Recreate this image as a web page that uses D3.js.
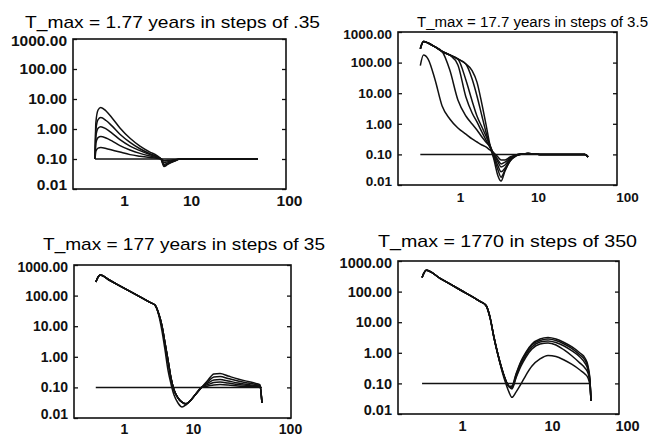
<!DOCTYPE html>
<html>
<head>
<meta charset="utf-8">
<script src="https://cdn.jsdelivr.net/npm/d3@7"></script>
<style>
body { margin: 0; background: #fff; }
svg { display: block; background: #fff; }
.title { font-family: 'Liberation Sans', Arial, sans-serif; fill: #000; }
.tick text { font-family: 'Liberation Sans', Arial, sans-serif; font-weight: bold; fill: #111; }
.curve { fill: none; stroke: #111; stroke-width: 1.5; }
.frame { fill: none; stroke: #111; stroke-width: 1.6; }
</style>
</head>
<body>
<svg width="653" height="436"></svg>
<script>
const svg = d3.select('svg');

// tick values shared by all four panels
const yTicks = [0.01, 0.1, 1, 10, 100, 1000];
const xTicks = [1, 10, 100];

const titles = [
    'T_max = 1.77 years in steps of .35',
    'T_max = 17.7 years in steps of 3.5',
    'T_max = 177 years in steps of 35',
    'T_max = 1770 in steps of 350'
];

// panel 1 : T_max = 1.77
const p1X = [0.37, 0.38, 0.41, 0.45, 0.54, 0.66, 0.87, 1.23, 1.73, 2.44, 3.1, 3.6, 3.95, 4.5, 5.6, 6.9, 9.7, 15.6, 28, 48];
const p1Y = [
    [0.1, 1.6, 4.3, 5.25, 3.98, 2.38, 1.08, 0.49, 0.27, 0.17, 0.13, 0.095, 0.056, 0.066, 0.083, 0.1, 0.1, 0.1, 0.1, 0.1],
    [0.1, 0.92, 2.05, 2.4, 1.92, 1.27, 0.67, 0.36, 0.22, 0.15, 0.12, 0.095, 0.06, 0.069, 0.085, 0.1, 0.1, 0.1, 0.1, 0.1],
    [0.1, 0.57, 1.06, 1.2, 1.01, 0.73, 0.44, 0.27, 0.19, 0.14, 0.116, 0.1, 0.066, 0.074, 0.087, 0.1, 0.1, 0.1, 0.1, 0.1],
    [0.1, 0.34, 0.52, 0.56, 0.5, 0.4, 0.28, 0.2, 0.154, 0.125, 0.11, 0.1, 0.076, 0.081, 0.091, 0.1, 0.1, 0.1, 0.1, 0.1],
    [0.1, 0.18, 0.23, 0.24, 0.225, 0.2, 0.17, 0.14, 0.124, 0.112, 0.105, 0.1, 0.087, 0.091, 0.095, 0.1, 0.1, 0.1, 0.1, 0.1],
    [0.1, 0.1, 0.1, 0.1, 0.1, 0.1, 0.1, 0.1, 0.1, 0.1, 0.1, 0.1, 0.1, 0.1, 0.1, 0.1, 0.1, 0.1, 0.1, 0.1]
];

// panel 2 : T_max = 17.7
const p2X = [0.31, 0.34, 0.39, 0.48, 0.59, 0.74, 0.94, 1.19, 1.43, 1.65, 1.91, 2.15, 2.42, 2.73, 3.07, 3.36, 3.78, 4.38, 5.22, 6.24, 7.45, 10.5, 17.7, 33.7, 36.5];
const p2Y = [
    [285, 490, 437, 324, 231, 177, 131, 90, 55, 23, 4.4, 0.98, 0.203, 0.066, 0.0197, 0.0135, 0.029, 0.061, 0.089, 0.103, 0.107, 0.1, 0.1, 0.1, 0.082],
    [285, 490, 437, 324, 231, 177, 131, 90, 29, 8.1, 1.8, 0.54, 0.188, 0.076, 0.031, 0.018, 0.031, 0.061, 0.089, 0.103, 0.107, 0.1, 0.1, 0.1, 0.082],
    [285, 490, 437, 324, 231, 177, 131, 27, 5.6, 1.8, 0.785, 0.4, 0.203, 0.089, 0.042, 0.027, 0.036, 0.066, 0.092, 0.103, 0.107, 0.1, 0.1, 0.1, 0.082],
    [285, 490, 437, 324, 231, 177, 83.5, 7.5, 2.25, 1.15, 0.54, 0.3, 0.175, 0.096, 0.056, 0.039, 0.045, 0.071, 0.096, 0.103, 0.107, 0.1, 0.1, 0.1, 0.082],
    [285, 490, 437, 324, 231, 57, 6.0, 1.8, 0.98, 0.63, 0.37, 0.254, 0.175, 0.103, 0.066, 0.049, 0.056, 0.076, 0.096, 0.103, 0.107, 0.1, 0.1, 0.1, 0.082],
    [80, 177, 131, 27, 3.8, 1.44, 0.73, 0.46, 0.32, 0.254, 0.203, 0.175, 0.139, 0.111, 0.082, 0.066, 0.066, 0.082, 0.096, 0.103, 0.107, 0.1, 0.1, 0.1, 0.082],
    [0.1, 0.1, 0.1, 0.1, 0.1, 0.1, 0.1, 0.1, 0.1, 0.1, 0.1, 0.1, 0.1, 0.1, 0.1, 0.1, 0.1, 0.1, 0.1, 0.1, 0.1, 0.1, 0.1, 0.1, 0.09]
];

// panel 3 : T_max = 177
const p3X = [0.39, 0.45, 0.63, 1.03, 1.71, 2.38, 2.81, 3.21, 3.55, 3.93, 4.34, 4.8, 5.31, 6.06, 6.93, 7.92, 9.35, 10.7, 12.4, 14.3, 16.4, 19.0, 23.0, 29.1, 36.9, 44.6, 49.1, 51.4];
const p3Y = [
    [278, 471, 311, 169, 91, 60, 49, 21.5, 7.0, 1.67, 0.37, 0.129, 0.056, 0.031, 0.023, 0.027, 0.039, 0.061, 0.103, 0.175, 0.274, 0.285, 0.236, 0.188, 0.156, 0.134, 0.12, 0.031],
    [278, 471, 311, 169, 91, 60, 49, 24, 10.2, 2.8, 0.785, 0.2, 0.082, 0.045, 0.033, 0.029, 0.039, 0.061, 0.103, 0.156, 0.219, 0.227, 0.195, 0.162, 0.139, 0.124, 0.111, 0.031],
    [278, 471, 311, 169, 91, 60, 49, 24, 10.2, 2.8, 0.785, 0.2, 0.082, 0.045, 0.033, 0.029, 0.039, 0.061, 0.103, 0.139, 0.175, 0.181, 0.162, 0.139, 0.124, 0.115, 0.107, 0.031],
    [278, 471, 311, 169, 91, 60, 49, 24, 10.2, 2.8, 0.785, 0.2, 0.082, 0.045, 0.033, 0.029, 0.039, 0.061, 0.103, 0.124, 0.145, 0.15, 0.139, 0.124, 0.115, 0.107, 0.103, 0.031],
    [278, 471, 311, 169, 91, 60, 49, 24, 10.2, 2.8, 0.785, 0.2, 0.082, 0.045, 0.033, 0.029, 0.039, 0.061, 0.103, 0.111, 0.12, 0.124, 0.12, 0.111, 0.107, 0.103, 0.1, 0.031],
    [0.1, 0.1, 0.1, 0.1, 0.1, 0.1, 0.1, 0.1, 0.1, 0.1, 0.1, 0.1, 0.1, 0.1, 0.1, 0.1, 0.1, 0.1, 0.1, 0.1, 0.1, 0.1, 0.1, 0.1, 0.1, 0.1, 0.1, 0.1]
];

// panel 4 : T_max = 1770
const p4X = [0.36, 0.4, 0.57, 0.95, 1.585, 1.85, 2.05, 2.27, 2.51, 2.78, 3.08, 3.33, 3.59, 3.98, 4.53, 5.14, 5.99, 7.36, 9.03, 11.3, 14.5, 18.5, 23.6, 27.5, 30.2, 32.1, 33.1];
const p4Y = [
    [289, 497, 272, 115, 48, 35, 14.1, 3.1, 0.867, 0.289, 0.12, 0.079, 0.082, 0.203, 0.54, 1.06, 1.94, 2.82, 3.16, 2.82, 2.17, 1.55, 0.98, 0.676, 0.37, 0.129, 0.027],
    [289, 497, 272, 115, 48, 35, 14.1, 3.1, 0.867, 0.289, 0.12, 0.079, 0.076, 0.188, 0.5, 0.98, 1.8, 2.52, 2.82, 2.52, 1.94, 1.38, 0.85, 0.58, 0.32, 0.12, 0.027],
    [289, 497, 272, 115, 48, 35, 14.1, 3.1, 0.867, 0.289, 0.12, 0.079, 0.071, 0.162, 0.43, 0.85, 1.55, 2.25, 2.43, 2.17, 1.67, 1.15, 0.73, 0.46, 0.274, 0.111, 0.027],
    [289, 497, 272, 115, 48, 35, 14.1, 3.1, 0.867, 0.289, 0.12, 0.079, 0.066, 0.15, 0.37, 0.73, 1.33, 1.94, 2.09, 1.8, 1.24, 0.785, 0.46, 0.32, 0.219, 0.103, 0.027],
    [289, 497, 272, 115, 48, 35, 14.1, 3.1, 0.867, 0.254, 0.096, 0.052, 0.035, 0.052, 0.096, 0.188, 0.37, 0.63, 0.82, 0.757, 0.58, 0.415, 0.274, 0.203, 0.15, 0.082, 0.027],
    [0.1, 0.1, 0.1, 0.1, 0.1, 0.1, 0.1, 0.1, 0.1, 0.1, 0.1, 0.1, 0.1, 0.1, 0.1, 0.1, 0.1, 0.1, 0.1, 0.1, 0.1, 0.1, 0.1, 0.1, 0.1, 0.1, 0.1]
];

const panelData = [[p1X, p1Y], [p2X, p2Y], [p3X, p3Y], [p4X, p4Y]];

// where each panel sits on the page (the scanned axes are not evenly spaced)
const layout = [
    { left: 73, right: 286, top: 39, bottom: 189, xPos: [124, 191, 289], titleX: 25, titleY: 28, titleW: 295, titleSize: 17, font: 15.5, xPad: 6 },
    { left: 398, right: 617, top: 32, bottom: 185, xPos: [460, 538, 627], titleX: 417, titleY: 27, titleW: 231, titleSize: 14, font: 13.5, xPad: 7 },
    { left: 74, right: 291, top: 265, bottom: 418, xPos: [124, 193, 290], titleX: 43, titleY: 250, titleW: 282, titleSize: 17, font: 14, xPad: 6 },
    { left: 398, right: 619, top: 261, bottom: 414, xPos: [462, 552, 627], titleX: 378, titleY: 247, titleW: 259, titleSize: 17, font: 14.5, xPad: 7 }
];

const render = (i) => {
    const L = layout[i];
    const [xs, series] = panelData[i];

    // log x axis, piecewise so the 1 / 10 / 100 labels land where the scan has them
    const xLin = d3.scaleLinear()
        .domain(xTicks.map(Math.log10))
        .range(L.xPos);
    const xScale = v => xLin(Math.log10(v));

    const yScale = d3.scaleLog()
        .domain([0.01, 1000])
        .range([L.bottom, L.top]);

    const g = svg.append('g');

    g.append('text')
        .attr('class', 'title')
        .attr('x', L.titleX)
        .attr('y', L.titleY)
        .attr('font-size', L.titleSize)
        .attr('textLength', L.titleW)
        .attr('lengthAdjust', 'spacingAndGlyphs')
        .text(titles[i]);

    const line = d3.line()
        .x(d => xScale(d[0]))
        .y(d => yScale(d[1]))
        .curve(d3.curveMonotoneX);

    g.selectAll('path.curve').data(series)
        .enter().append('path')
            .attr('class', 'curve')
            .attr('d', ys => line(ys.map((y, k) => [xs[k], y])));

    // left axis with labels, ticks pointing inward
    const yAxisG = g.append('g')
        .attr('transform', `translate(${L.left},0)`)
        .call(d3.axisLeft(yScale)
            .tickValues(yTicks)
            .tickFormat(d3.format('.2f'))
            .tickSize(-4)
            .tickPadding(6));
    yAxisG.select('.domain').remove();
    yAxisG.selectAll('.tick line').attr('stroke', '#111').attr('stroke-width', 1.3);
    yAxisG.selectAll('text').attr('font-size', L.font);
    // end labels sit a little inside the frame in the scan
    yAxisG.selectAll('.tick text')
        .filter(d => d === 0.01).attr('dy', '0.05em');
    yAxisG.selectAll('.tick text')
        .filter(d => d === 1000).attr('dy', '0.45em');

    // right side ticks only
    const yRightG = g.append('g')
        .attr('transform', `translate(${L.right},0)`)
        .call(d3.axisRight(yScale).tickValues(yTicks).tickFormat('').tickSize(-4));
    yRightG.select('.domain').remove();
    yRightG.selectAll('.tick line').attr('stroke', '#111').attr('stroke-width', 1.3);

    const xAxisG = g.append('g')
        .attr('transform', `translate(0,${L.bottom})`)
        .call(d3.axisBottom(xLin)
            .tickValues(xTicks.map(Math.log10))
            .tickFormat(d => d3.format('d')(Math.pow(10, d)))
            .tickSize(0)
            .tickPadding(L.xPad));
    xAxisG.select('.domain').remove();
    xAxisG.selectAll('text').attr('font-size', L.font);

    g.append('rect')
        .attr('class', 'frame')
        .attr('x', L.left)
        .attr('y', L.top)
        .attr('width', L.right - L.left)
        .attr('height', L.bottom - L.top);
};

layout.forEach((L, i) => render(i));
</script>
</body>
</html>
